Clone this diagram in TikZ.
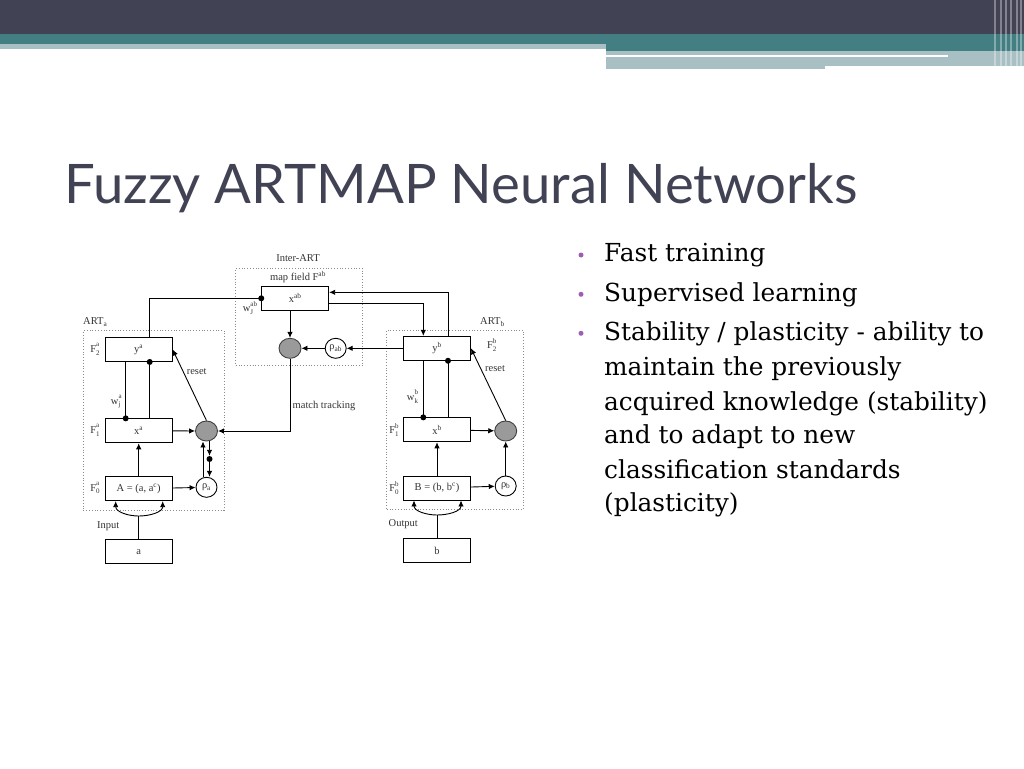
\documentclass[tikz,border=0pt]{standalone}
\usepackage{fontspec}
\setmainfont{Liberation Serif}
\newfontfamily\titlefont{Lato}
\newfontfamily\bodyfont{DejaVu Serif}
\usetikzlibrary{arrows.meta, positioning, shapes.geometric, calc}
\definecolor{slidedark}{HTML}{414254}
\definecolor{slideteal}{HTML}{427E82}
\definecolor{slidelight}{HTML}{A8BFC3}
\definecolor{bulletpurple}{HTML}{A05DB4}
\definecolor{gaingray}{HTML}{9A9A9A}
\definecolor{zonegray}{HTML}{8C8C8C}
\newcommand{\idx}[1]{{\fontsize{7}{7}\selectfont #1}}
\newcommand{\supsub}[3]{\mbox{#1\rlap{\raisebox{0.55em}{\idx{#2}}}\raisebox{-0.28em}{\idx{#3}}}}

\begin{document}
\begin{tikzpicture}[x=1pt, y=-1pt,
  every node/.style={font=\fontsize{10.5}{12}\selectfont, text=black!80},
  layer/.style={rectangle, draw, line width=0.9pt, minimum width=67, minimum height=24, inner sep=0pt},
  gain/.style={ellipse, draw=black!75, fill=gaingray, minimum width=22, minimum height=20, inner sep=0pt, line width=0.9pt},
  vigil/.style={ellipse, draw, fill=white, minimum width=21, minimum height=20, inner sep=0pt, line width=0.9pt},
  zone/.style={rectangle, draw=zonegray, dotted, line width=0.8pt, inner sep=0pt},
  dot/.style={circle, fill=black, inner sep=0pt, minimum size=6},
  link/.style={line width=0.9pt},
  arr/.style={line width=0.9pt, -{Latex[length=6, width=5.5]}},
  bodyline/.style={anchor=base west, inner sep=0pt, text=black, font=\bodyfont\fontsize{24.8}{30}\selectfont},
  bullet/.style={circle, fill=bulletpurple, inner sep=0pt, minimum size=5},
]
\useasboundingbox (0,0) rectangle (1024,768);

% slide header
\fill[slidedark] (0,0) rectangle (1024,34);
\fill[slideteal] (0,34) rectangle (1024,44);
\fill[slidelight] (0,44) rectangle (606,49);
\fill[slideteal] (606,44) rectangle (1024,51);
\fill[slidelight] (606,51) rectangle (1024,66);
\fill[slidelight] (606,66) rectangle (825,69);
\fill[white] (606,55.5) rectangle (948,57.5);
\foreach \x in {995,1001,1006,1011,1017,1021}
  \draw[white, opacity=0.35, line width=1.4] (\x,0) -- (\x,68);

\node[anchor=base west, inner sep=0pt, text=slidedark, font=\titlefont\fontsize{54.5}{62}\selectfont] (title) at (64,203.5) {Fuzzy ARTMAP Neural Networks};

% bullet list
\node[bullet] (b1) at (581,255) {};
\node[bullet] (b2) at (581,294.3) {};
\node[bullet] (b3) at (581,333.3) {};
\node[bodyline] (l1) at (604,261.7) {Fast training};
\node[bodyline] (l2) at (604,301) {Supervised learning};
\node[bodyline] (l3) at (604,340) {Stability / plasticity - ability to};
\node[bodyline] (l4) at (604,375) {maintain the previously};
\node[bodyline] (l5) at (604,410) {acquired knowledge (stability)};
\node[bodyline] (l6) at (604,443.5) {and to adapt to new};
\node[bodyline] (l7) at (604,478) {classification standards};
\node[bodyline] (l8) at (604,511.7) {(plasticity)};

% dotted modules
\node[zone, minimum width=127, minimum height=97] (interart) at (299.2,317) {};
\node[zone, minimum width=140.7, minimum height=179.3] (arta) at (153.7,420.3) {};
\node[zone, minimum width=136.6, minimum height=179.3] (artb) at (455,419.7) {};

% layers
\node[layer] (xab) at (295.2,298.3) {x\textsuperscript{ab}};
\node[layer] (ya) at (138.7,349.5) {y\textsuperscript{a}};
\node[layer] (xa) at (138.7,430.8) {x\textsuperscript{a}};
\node[layer] (inA) at (138.7,488.7) {A = (a, a\textsuperscript{c})};
\node[layer] (ina) at (138.7,551.7) {a};
\node[layer] (yb) at (437,348.3) {y\textsuperscript{b}};
\node[layer] (xb) at (437,429.8) {x\textsuperscript{b}};
\node[layer] (inB) at (437,488) {B = (b, b\textsuperscript{c})};
\node[layer] (outb) at (437,550.8) {b};

% orienting and vigilance units
\node[gain] (gab) at (290,348.3) {};
\node[vigil] (rhoab) at (335.7,348.3) {ρ\textsubscript{ab}};
\node[gain] (ga) at (206.5,431) {};
\node[vigil] (rhoa) at (206.5,487.3) {ρ\textsubscript{a}};
\node[gain] (gb) at (505.7,431) {};
\node[vigil] (rhob) at (505.7,486) {ρ\textsubscript{b}};
\node[dot] (trk) at (209.5,459) {};

% labels
\node (interlbl) at (298,258) {Inter-ART};
\node (maplbl) at (298,277) {map field F\textsuperscript{ab}};
\node (wablbl) at (248,308) {\supsub{w}{ab}{J}};
\node[anchor=west, inner sep=0pt] (artalbl) at (83,322) {ART\textsubscript{a}};
\node (f2a) at (95,349.3) {\supsub{F}{a}{2}};
\node (wjalbl) at (115.7,401.7) {\supsub{w}{a}{j}};
\node (reseta) at (196.7,371.7) {reset};
\node (f1a) at (95,430) {\supsub{F}{a}{1}};
\node (f0a) at (95,488) {\supsub{F}{a}{0}};
\node (inputlbl) at (108.3,526) {Input};
\node[anchor=west, inner sep=0pt] (matchlbl) at (292.5,405.7) {match tracking};
\node[anchor=west, inner sep=0pt] (artblbl) at (480,322) {ART\textsubscript{b}};
\node (f2b) at (491.7,345) {\supsub{F}{b}{2}};
\node (resetb) at (495,368.3) {reset};
\node (wkblbl) at (412.5,396.7) {\supsub{w}{b}{k}};
\node (f1b) at (394,430) {\supsub{F}{b}{1}};
\node (f0b) at (394,488) {\supsub{F}{b}{0}};
\node (outputlbl) at (403.3,524) {Output};

% map field links
\draw[link] ([xshift=11]ya.north) |- (xab.west);
\node[dot] (wab) at (xab.west) {};
\draw[arr] ([xshift=11]yb.north) |- ([yshift=6]xab.east);
\draw[arr] ([yshift=-5]xab.east) -| ([xshift=-13.7]yb.north);
\draw[arr] (xab.south -| gab) -- (gab);
\draw[arr] (yb) -- (rhoab);
\draw[arr] (rhoab) -- (gab);
\draw[arr] (gab) |- (ga);

% ART_a
\draw[link] ([xshift=-13]ya.south) -- ([xshift=-13]xa.north);
\node[dot] (wja) at ([xshift=-13]xa.north) {};
\draw[link] ([xshift=11]ya.south) -- ([xshift=11]xa.north);
\node[dot] (wya) at ([xshift=11]ya.south) {};
\draw[arr] (xa) -- (ga);
\draw[arr] (inA) -- (xa);
\draw[arr] (inA) -- (rhoa);
\draw[arr] (ga.north) -- (ya.east);
\draw[arr] ([xshift=-3.5]rhoa.north) -- ([xshift=-3.5]ga.south);
\draw[arr] ([xshift=3]ga.south) -- (trk);
\draw[arr] (trk) -- ([xshift=3]rhoa.north);
\coordinate (forka) at (138.7,516);
\draw[link] (ina) -- (forka);
\draw[arr] (forka) to[out=180, in=-90] ([xshift=-23]inA.south);
\draw[arr] (forka) to[out=0, in=-90] ([xshift=24]inA.south);

% ART_b
\draw[link] ([xshift=-13.7]yb.south) -- ([xshift=-13.7]xb.north);
\node[dot] (wkb) at ([xshift=-13.7]xb.north) {};
\draw[link] ([xshift=11]yb.south) -- ([xshift=11]xb.north);
\node[dot] (wyb) at ([xshift=11]yb.south) {};
\draw[arr] (xb) -- (gb);
\draw[arr] (inB) -- (xb);
\draw[arr] (inB) -- (rhob);
\draw[arr] (gb.north) -- (yb.east);
\draw[arr] (rhob) -- (gb);
\coordinate (forkb) at (437,515);
\draw[link] (outb) -- (forkb);
\draw[arr] (forkb) to[out=180, in=-90] ([xshift=-23]inB.south);
\draw[arr] (forkb) to[out=0, in=-90] ([xshift=24]inB.south);

\end{tikzpicture}
\end{document}
